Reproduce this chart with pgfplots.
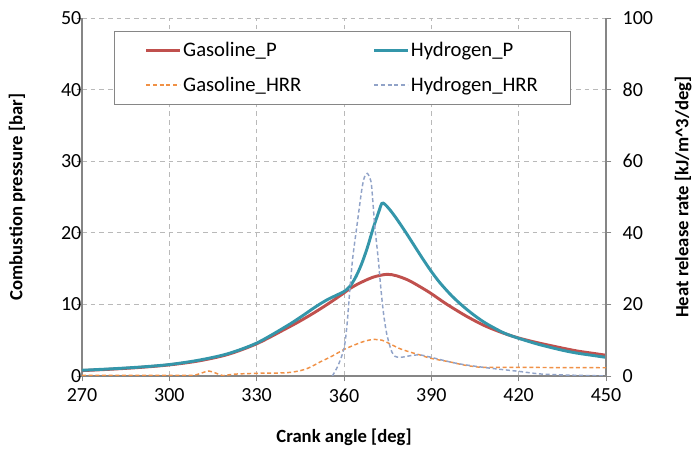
\documentclass[border=0pt]{standalone}
\usepackage{fontspec}
\setmainfont{Carlito}
\usepackage{pgfplots}
\pgfplotsset{compat=1.18}

\definecolor{gasP}{RGB}{192,80,77}
\definecolor{hydP}{RGB}{52,150,170}
\definecolor{gasH}{RGB}{240,145,70}
\definecolor{hydH}{RGB}{145,163,200}
\definecolor{axgray}{RGB}{134,134,134}

\pgfplotsset{
  common/.style={
    at={(0,0)}, anchor=south west,
    scale only axis, width=393pt, height=268.5pt,
    xmin=270, xmax=450,
    tick align=outside, major tick length=4pt,
    tick style={axgray, line width=0.6pt},
    axis line style={axgray, line width=0.8pt},
    ticklabel style={font=\fontsize{15}{18}\selectfont},
    /pgf/number format/assume math mode=true,
  },
}

\begin{document}
\begin{tikzpicture}
\useasboundingbox (-61.5pt,-63pt) rectangle (463.5pt,282pt);

\begin{axis}[common,
  axis x line*=bottom, axis y line*=left,
  ymin=0, ymax=50, ytick={0,10,20,30,40,50},
  xtick={270,300,330,360,390,420,450},
  grid=major,
  major grid style={gray!55, line width=0.5pt, dash pattern=on 3.5pt off 3pt},
  yticklabel style={xshift=7pt},
  xticklabel style={yshift=-2pt},
  xlabel={Crank angle [deg]},
  ylabel={Combustion pressure [bar]},
  every axis x label/.style={at={(axis description cs:0.5,-0.170)}, anchor=center,
    font=\fontsize{14}{17}\selectfont\bfseries},
  every axis y label/.style={at={(axis description cs:-0.124,0.5)}, rotate=90, anchor=center,
    font=\fontsize{14}{17}\selectfont\bfseries},
  legend columns=2,
  legend cell align=left,
  legend image code/.code={\draw[#1] (0pt,0pt) -- (25pt,0pt);},
  legend style={
    at={(0.497,0.964)}, anchor=north,
    draw=axgray, fill=white, line width=0.6pt,
    inner xsep=23pt, inner ysep=6pt,
    font=\fontsize{15.5}{18}\selectfont,
    nodes={inner xsep=1.5pt, inner ysep=2pt},
    row sep=10pt,
    /tikz/every even column/.append style={column sep=52pt},
  },
]
\addplot[gasP, line width=2.2pt, smooth] coordinates {
(270,0.75) (280,0.95) (290,1.2) (300,1.55) (310,2.1) (320,3.0) (330,4.5)
(340,6.6) (345,7.7) (350,8.9) (355,10.2) (360,11.6) (362,12.2) (365,12.9)
(370,13.8) (374.7,14.2) (378,14.0) (382,13.4) (386,12.5) (390,11.5)
(395,10.1) (401,8.6) (405,7.7) (409,6.9) (415,5.95) (420.5,5.25) (427,4.6)
(435,3.9) (440,3.5) (445,3.2) (450,2.9)
};
\addlegendentry{Gasoline\_P}
\addplot[hydP, line width=2.2pt, smooth] coordinates {
(270,0.8) (280,1.0) (290,1.25) (300,1.6) (310,2.2) (320,3.1) (330,4.6)
(340,6.9) (345,8.2) (350,9.6) (354,10.6) (357.5,11.3) (360,11.8) (362,12.5)
(364,13.8) (366,15.6) (368,17.9) (370,20.6) (372,23.0) (373,24.1) (374,24.0)
(375.8,23.2) (378,22.0) (381,20.2) (384,18.3) (387,16.4) (390,14.6)
(393,13.0) (397,11.2) (401,9.7) (405,8.4) (409,7.3) (415,6.0) (420.5,5.2)
(427,4.4) (435,3.6) (440,3.2) (445,2.9) (450,2.6)
};
\addlegendentry{Hydrogen\_P}
\addlegendimage{gasH, line width=1.1pt, dash pattern=on 3pt off 2pt}
\addlegendentry{Gasoline\_HRR}
\addlegendimage{hydH, line width=1.1pt, dash pattern=on 3pt off 2pt}
\addlegendentry{Hydrogen\_HRR}
\end{axis}

\begin{axis}[common,
  axis y line*=right, axis x line=none,
  ymin=0, ymax=100, ytick={0,20,40,60,80,100},
  yticklabel style={xshift=5pt},
  ylabel={Heat release rate [kJ/m\textasciicircum 3/deg]},
  every axis y label/.style={at={(axis description cs:1.147,0.5)}, rotate=90, anchor=center,
    font=\fontsize{14}{17}\selectfont\bfseries},
]
\addplot[gasH, line width=1.1pt, dash pattern=on 3pt off 2pt, smooth] coordinates {
(270,0.2) (300,0.2) (308,0.2) (311,0.8) (313.5,1.4) (316,0.8) (318.5,0.1)
(322,0.5) (330,0.75) (340,0.9) (345,1.5) (348,2.3) (352,4.0) (356,5.6)
(360,7.4) (364,8.8) (367,9.7) (370,10.2) (373,10.0) (375,9.3) (379,7.7)
(383,6.6) (386,5.9) (390,4.9) (396,4.0) (401,3.1) (406,2.5) (410,2.4)
(420,2.4) (450,2.3)
};
\addplot[hydH, line width=1.1pt, dash pattern=on 3pt off 2pt, smooth] coordinates {
(356,0) (358,3) (360,7.7) (361,14) (362,24) (363,33) (364.4,41.7)
(366.1,52) (367,55.5) (368,56.6) (369,55) (369.5,52.9) (370.6,41.7)
(371.8,32.4) (372.6,25) (373.5,18) (374.4,13) (375.2,10) (376.4,6.8)
(377.5,5.5) (379.2,5.2) (381,5.4) (383,5.7) (386,5.9) (390,5.2) (396,4.0)
(401,3.2) (410,2.2) (420,1.3) (427,0.6) (435,0.3) (445,0.1) (450,0)
};
\end{axis}
\end{tikzpicture}
\end{document}
